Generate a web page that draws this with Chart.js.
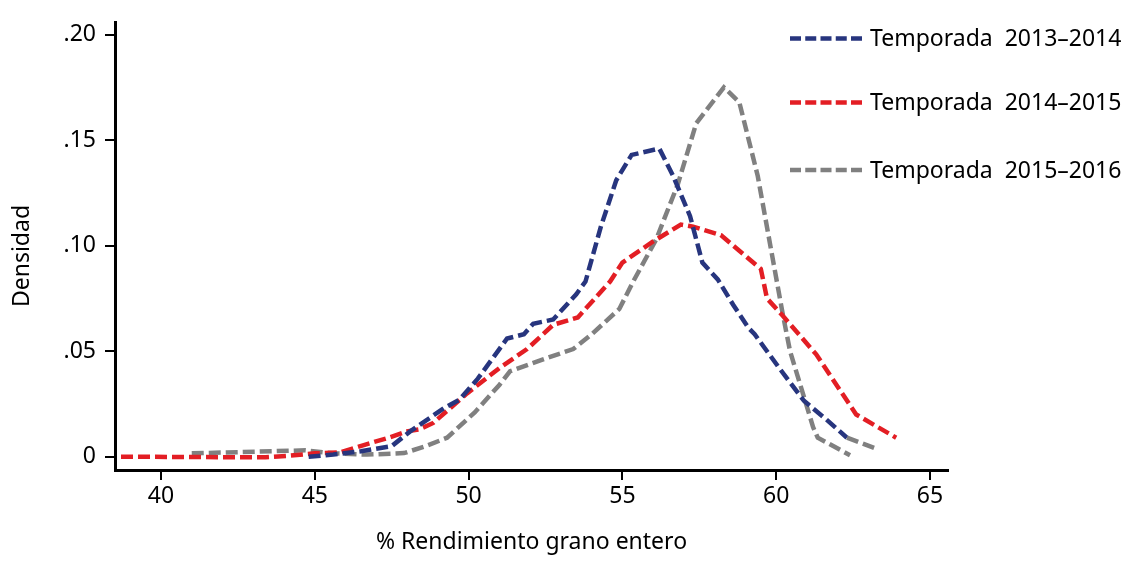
<!DOCTYPE html>
<html><head><meta charset="utf-8">
<script src="https://cdn.jsdelivr.net/npm/chart.js@4/dist/chart.umd.min.js"></script>
<style>html,body{margin:0;padding:0;background:#fff}#wrap{width:1144px;height:562px;position:relative}</style>
</head><body><div id="wrap"><canvas id="c" width="1144" height="562"></canvas></div>
<script>
const seriesLabels = ['Temporada  2013–2014', 'Temporada  2014–2015', 'Temporada  2015–2016'];
const seriesColors = ['#27357e', '#e31e24', '#808080'];

const x1314 = [44.8, 45.6, 46.5, 47.5, 48.1, 48.6, 49.2, 49.7, 50.3, 51.0, 51.25, 51.8, 52.1, 52.75, 53.5, 53.8, 54.3, 54.8, 55.3, 56.2, 56.65, 57.2, 57.6, 58.1, 58.6, 59.1, 59.3, 60.1, 60.9, 61.6, 62.3, 63.3];
const y1314 = [0, 0.001, 0.0026, 0.005, 0.012, 0.017, 0.023, 0.027, 0.037, 0.051, 0.056, 0.058, 0.063, 0.065, 0.077, 0.083, 0.109, 0.131, 0.143, 0.146, 0.133, 0.114, 0.092, 0.084, 0.072, 0.061, 0.058, 0.042, 0.0265, 0.018, 0.009, 0.0035];

const x1415 = [38.7, 43.4, 44.2, 45.0, 45.8, 46.7, 47.4, 48.0, 48.4, 48.85, 49.4, 49.95, 51.0, 51.9, 52.75, 53.55, 54.6, 55.0, 56.0, 56.9, 57.3, 58.2, 59.5, 59.7, 60.2, 61.3, 62.6, 63.9];
const y1415 = [0, -0.0003, 0.0005, 0.0016, 0.002, 0.006, 0.009, 0.012, 0.013, 0.016, 0.023, 0.030, 0.042, 0.051, 0.0625, 0.066, 0.083, 0.092, 0.102, 0.110, 0.109, 0.105, 0.089, 0.075, 0.067, 0.0485, 0.020, 0.009];

const x1516 = [41.0, 44.7, 45.6, 46.7, 47.9, 48.6, 49.3, 50.2, 51.0, 51.35, 52.4, 53.4, 54.0, 54.9, 55.35, 56.1, 56.8, 57.4, 58.3, 58.8, 59.4, 60.2, 60.45, 61.2, 61.35, 62.4];
const y1516 = [0.0016, 0.003, 0.0016, 0.001, 0.0017, 0.005, 0.009, 0.021, 0.034, 0.0405, 0.046, 0.051, 0.058, 0.070, 0.083, 0.103, 0.129, 0.158, 0.175, 0.168, 0.133, 0.0686, 0.050, 0.014, 0.009, 0.0007];

const xTicks = [40, 45, 50, 55, 60, 65];
const yTicks = [0, 0.05, 0.10, 0.15, 0.20];
const yTickLabels = ['0', '.05', '.10', '.15', '.20'];
const xTitle = '% Rendimiento grano entero';
const yTitle = 'Densidad';

const FONT = "'Noto Sans', sans-serif";
const toPts = (xs, ys) => xs.map((x, i) => ({x: x, y: ys[i]}));
const lastSeg = x1314.length - 2;

const legendPlugin = {
  id: 'insideLegend',
  afterDraw(chart) {
    const ctx = chart.ctx;
    const rows = [38.5, 102.5, 170];
    ctx.save();
    chart.data.datasets.forEach((ds, i) => {
      ctx.strokeStyle = seriesColors[i];
      ctx.lineWidth = 4.5;
      ctx.setLineDash([11, 4.25]);
      ctx.beginPath();
      ctx.moveTo(790, rows[i]);
      ctx.lineTo(862, rows[i]);
      ctx.stroke();
      ctx.setLineDash([]);
      ctx.fillStyle = '#000';
      ctx.font = "23px " + FONT;
      ctx.textBaseline = 'middle';
      ctx.textAlign = 'left';
      ctx.fillText(ds.label, 870, rows[i] + 1);
    });
    // y axis title
    ctx.translate(22, 256);
    ctx.rotate(-Math.PI / 2);
    ctx.font = "23px " + FONT;
    ctx.textAlign = 'center';
    ctx.textBaseline = 'middle';
    ctx.fillText(yTitle, 0, 0);
    ctx.restore();
  }
};

new Chart(document.getElementById('c'), {
  type: 'line',
  data: {
    datasets: [
      {label: seriesLabels[0], data: toPts(x1314, y1314), borderColor: seriesColors[0],
       segment: {borderColor: c => c.p0DataIndex === lastSeg ? seriesColors[2] : seriesColors[0]}},
      {label: seriesLabels[1], data: toPts(x1415, y1415), borderColor: seriesColors[1]},
      {label: seriesLabels[2], data: toPts(x1516, y1516), borderColor: seriesColors[2]}
    ].map(d => Object.assign({borderWidth: 4.5, borderDash: [12, 5], pointRadius: 0, tension: 0, fill: false, borderCapStyle: 'butt'}, d))
  },
  options: {
    responsive: false,
    animation: false,
    devicePixelRatio: 1,
    layout: {padding: {left: 0, top: 17, right: 196, bottom: 0}},
    plugins: {legend: {display: false}, tooltip: {enabled: false}},
    scales: {
      x: {
        type: 'linear', min: 38.505, max: 65.585,
        afterBuildTicks: s => { s.ticks = xTicks.map(v => ({value: v})); },
        afterFit: s => { s.height = 92; },
        grid: {drawOnChartArea: false, drawTicks: true, tickLength: 10, color: '#000', lineWidth: 2},
        border: {display: true, color: '#000', width: 3},
        ticks: {color: '#000', font: {family: FONT, size: 23}, padding: 3, maxRotation: 0},
        title: {display: true, text: xTitle, color: '#000', font: {family: FONT, size: 23}, padding: {top: 0, bottom: 6}}
      },
      y: {
        type: 'linear', min: -0.0063, max: 0.2056,
        afterBuildTicks: s => { s.ticks = yTicks.map(v => ({value: v})); },
        afterFit: s => { s.width = 115; },
        grid: {drawOnChartArea: false, drawTicks: true, tickLength: 10, color: '#000', lineWidth: 2},
        border: {display: true, color: '#000', width: 3},
        ticks: {color: '#000', font: {family: FONT, size: 23}, padding: 9,
                callback: (v) => { const i = yTicks.findIndex(t => Math.abs(t - v) < 1e-9); return i >= 0 ? yTickLabels[i] : ''; }},
        title: {display: false}
      }
    }
  },
  plugins: [legendPlugin]
});
</script></body></html>
